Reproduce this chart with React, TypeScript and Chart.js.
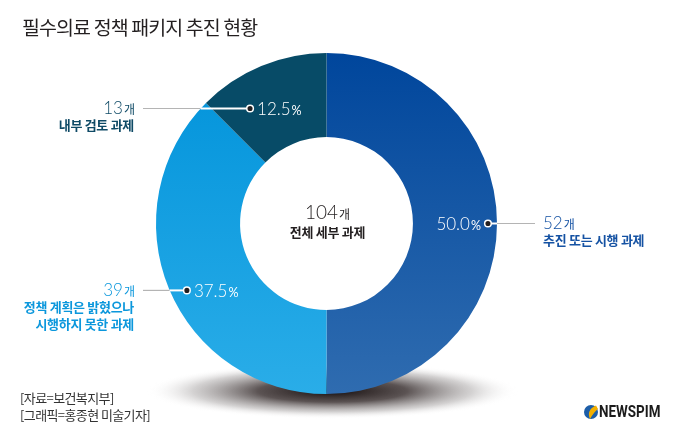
import React, { useEffect, useRef } from "react";
import { Chart, registerables } from "chart.js";

Chart.register(...registerables);

// ---------- data ----------
const titleText = "필수의료 정책 패키지 추진 현황";
const categories = ["추진 또는 시행 과제", "정책 계획은 밝혔으나 시행하지 못한 과제", "내부 검토 과제"];
const categoryLines = [["추진 또는 시행 과제"], ["정책 계획은 밝혔으나", "시행하지 못한 과제"], ["내부 검토 과제"]];
const counts = [52, 39, 13];
const unit = "개";
const totalLabel = "전체 세부 과제";
const sourceLines = ["[자료=보건복지부]", "[그래픽=홍종현 미술기자]"];
const brand = "NEWSPIM";

// ---------- styles ----------
const gradColors = [
  ["#00469c", "#2f6cb0"],
  ["#0092da", "#2aade8"],
  ["#074b67", "#074b67"],
];
const textColors = ["#1552a3", "#0b97dc", "#0f4a66"];
const KR = "'Noto Sans CJK KR', 'Noto Sans', sans-serif";
const NUM = "Lato, 'Open Sans', sans-serif";

// label placement: fraction of the arc's angle span, fraction of outer radius, side
const placements = [
  { frac: 0.5, rf: 0.947, side: "right" },
  { frac: 0.477, rf: 0.908, side: "left" },
  { frac: 0.253, rf: 0.81, side: "left" },
];

function drawNumUnit(ctx: CanvasRenderingContext2D, x: number, y: number, num: string, u: string, align: string, color: string, numSize: number, unitSize: number, unitFont: string) {
  ctx.save();
  ctx.textBaseline = "alphabetic";
  ctx.fillStyle = color;
  ctx.font = `300 ${numSize}px ${NUM}`;
  const w1 = ctx.measureText(num).width;
  ctx.font = `400 ${unitSize}px ${unitFont}`;
  const w2 = ctx.measureText(u).width;
  const total = w1 + w2 + 1;
  let sx = x;
  if (align === "right") sx = x - total;
  else if (align === "center") sx = x - total / 2;
  const base = y + numSize * 0.36;
  ctx.textAlign = "left";
  ctx.font = `300 ${numSize}px ${NUM}`;
  ctx.fillText(num, sx, base);
  ctx.font = `400 ${unitSize}px ${unitFont}`;
  ctx.fillText(u, sx + w1 + 1, base);
  ctx.restore();
}

const decorPlugin = {
  id: "decor",
  beforeDraw(chart: any) {
    const area = chart.chartArea;
    if (!area) return;
    const x = (area.left + area.right) / 2;
    const R = Math.min(area.right - area.left, area.bottom - area.top) / 2;
    const y = (area.top + area.bottom) / 2;
    const ctx = chart.ctx as CanvasRenderingContext2D;
    ctx.save();
    ctx.translate(x + 6, y + R - 3);
    ctx.scale(1, 0.15);
    const r = R * 1.09;
    const g = ctx.createRadialGradient(0, 0, 0, 0, 0, r);
    g.addColorStop(0, "rgba(20,12,12,1)");
    g.addColorStop(0.4, "rgba(50,40,40,0.8)");
    g.addColorStop(0.75, "rgba(130,125,125,0.35)");
    g.addColorStop(1, "rgba(255,255,255,0)");
    ctx.fillStyle = g;
    ctx.beginPath();
    ctx.arc(0, 0, r, 0, Math.PI * 2);
    ctx.fill();
    ctx.restore();
  },
  afterDraw(chart: any) {
    const ctx = chart.ctx as CanvasRenderingContext2D;
    const meta = chart.getDatasetMeta(0);
    const data = chart.data.datasets[0].data as number[];
    const total = data.reduce((a, b) => a + b, 0);

    // title
    ctx.save();
    ctx.fillStyle = "#231f20";
    ctx.font = `400 19.5px ${KR}`;
    (ctx as any).letterSpacing = "-0.9px";
    ctx.textBaseline = "middle";
    ctx.textAlign = "left";
    ctx.fillText(titleText, 22, 28);
    ctx.restore();

    // sources
    ctx.save();
    ctx.fillStyle = "#333";
    ctx.font = `400 13px ${KR}`;
    (ctx as any).letterSpacing = "-0.6px";
    ctx.textBaseline = "middle";
    sourceLines.forEach((s, i) => ctx.fillText(s, 20, 398 + i * 17));
    ctx.restore();

    // logo
    ctx.save();
    ctx.fillStyle = "#1d5ea8";
    ctx.beginPath();
    ctx.arc(591, 412, 7, 0, Math.PI * 2);
    ctx.fill();
    ctx.fillStyle = "#f3b000";
    ctx.beginPath();
    ctx.moveTo(596, 405.5);
    ctx.quadraticCurveTo(586, 410, 590, 419);
    ctx.quadraticCurveTo(594, 412, 598, 409);
    ctx.closePath();
    ctx.fill();
    ctx.translate(599, 412);
    ctx.scale(0.84, 1);
    ctx.fillStyle = "#1b1b1b";
    ctx.font = `700 16px Roboto, sans-serif`;
    ctx.textBaseline = "middle";
    ctx.fillText(brand, 0, 1);
    ctx.restore();

    const first = meta.data[0];
    if (!first) return;
    const { x: cx, y: cy, outerRadius: R } = first.getProps(["x", "y", "outerRadius"], true);

    // center
    drawNumUnit(ctx, cx + 1, cy - 11, String(total), unit, "center", "#231f20", 19, 12, KR);
    ctx.save();
    ctx.fillStyle = "#231f20";
    ctx.font = `700 13px ${KR}`;
    (ctx as any).letterSpacing = "-0.3px";
    ctx.textAlign = "center";
    ctx.textBaseline = "middle";
    ctx.fillText(totalLabel, cx + 1, cy + 9);
    ctx.restore();

    // slice labels
    meta.data.forEach((el: any, i: number) => {
      const p = placements[i];
      const { startAngle, endAngle } = el.getProps(["startAngle", "endAngle"], true);
      const a = startAngle + p.frac * (endAngle - startAngle);
      const dx = cx + Math.cos(a) * R * p.rf;
      const dy = cy + Math.sin(a) * R * p.rf;
      const right = p.side === "right";
      const lineEnd = right ? 535 : 143;
      const textX = right ? 543 : 135;
      const off = dy - cy;
      const edge = cx + (right ? 1 : -1) * Math.sqrt(Math.max(0, R * R - off * off));

      ctx.save();
      ctx.strokeStyle = "#b4b4b4";
      ctx.lineWidth = 1.2;
      ctx.beginPath();
      ctx.moveTo(edge, dy);
      ctx.lineTo(lineEnd, dy);
      ctx.stroke();
      ctx.strokeStyle = "#ffffff";
      ctx.lineWidth = 2;
      ctx.beginPath();
      ctx.moveTo(dx, dy);
      ctx.lineTo(edge, dy);
      ctx.stroke();
      ctx.fillStyle = "#231f20";
      ctx.strokeStyle = "#ffffff";
      ctx.lineWidth = 1.5;
      ctx.beginPath();
      ctx.arc(dx, dy, 3.3, 0, Math.PI * 2);
      ctx.fill();
      ctx.stroke();
      ctx.restore();

      const pct = ((data[i] / total) * 100).toFixed(1);
      drawNumUnit(ctx, right ? dx - 7 : dx + 7, dy, pct, "%", right ? "right" : "left", "#ffffff", 17, 12.5, NUM);

      drawNumUnit(ctx, textX, dy - 1, String(counts[i]), unit, right ? "left" : "right", textColors[i], 17, 12, KR);

      ctx.save();
      ctx.fillStyle = textColors[i];
      ctx.font = `700 13px ${KR}`;
      (ctx as any).letterSpacing = "-0.3px";
      ctx.textBaseline = "middle";
      ctx.textAlign = right ? "left" : "right";
      categoryLines[i].forEach((ln, j) => {
        ctx.fillText(ln, right ? textX : textX - 1, dy + 16.5 + j * 17.5);
      });
      ctx.restore();
    });
  },
};

export default function App() {
  const ref = useRef<HTMLCanvasElement>(null);
  useEffect(() => {
    if (!ref.current) return;
    const chart = new Chart(ref.current, {
      type: "doughnut",
      data: {
        labels: categories,
        datasets: [
          {
            data: counts,
            borderWidth: 0,
            backgroundColor: (c: any) => {
              const area = c.chart.chartArea;
              const cols = gradColors[c.dataIndex] || gradColors[0];
              if (!area) return cols[0];
              const g = c.chart.ctx.createLinearGradient(0, area.top, 0, area.bottom);
              g.addColorStop(0, cols[0]);
              g.addColorStop(1, cols[1]);
              return g;
            },
          },
        ],
      },
      options: {
        responsive: false,
        animation: false,
        events: [],
        cutout: "50.7%",
        layout: { padding: { top: 53, bottom: 48, left: 156, right: 183 } },
        plugins: {
          legend: { display: false },
          tooltip: { enabled: false },
          title: { display: false },
        },
      },
      plugins: [decorPlugin],
    });
    return () => chart.destroy();
  }, []);
  return (
    <div style={{ position: "fixed", left: 0, top: 0, width: 680, height: 442, background: "#fff" }}>
      <canvas ref={ref} width={680} height={442} style={{ display: "block" }} />
    </div>
  );
}
